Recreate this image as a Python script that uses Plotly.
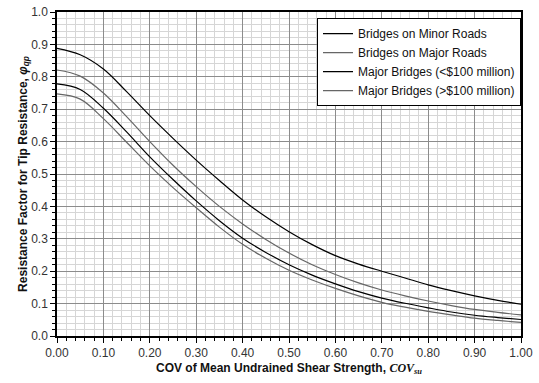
import plotly.graph_objects as go

cov = [0.00, 0.05, 0.10, 0.15, 0.20, 0.25, 0.30, 0.35, 0.40, 0.45, 0.50,
       0.55, 0.60, 0.65, 0.70, 0.75, 0.80, 0.85, 0.90, 0.95, 1.00]

minor_roads = [0.888, 0.868, 0.824, 0.754, 0.680, 0.610, 0.543, 0.480, 0.420, 0.368, 0.322,
               0.282, 0.248, 0.222, 0.200, 0.179, 0.158, 0.140, 0.124, 0.110, 0.098]
major_roads = [0.821, 0.802, 0.750, 0.677, 0.600, 0.527, 0.461, 0.400, 0.346, 0.298, 0.256,
               0.220, 0.190, 0.164, 0.142, 0.124, 0.108, 0.094, 0.082, 0.073, 0.065]
major_lt100 = [0.778, 0.761, 0.703, 0.630, 0.553, 0.483, 0.417, 0.356, 0.302, 0.258, 0.220,
               0.188, 0.161, 0.137, 0.117, 0.101, 0.087, 0.074, 0.064, 0.057, 0.051]
major_gt100 = [0.747, 0.731, 0.671, 0.598, 0.525, 0.458, 0.396, 0.336, 0.283, 0.240, 0.203,
               0.173, 0.147, 0.124, 0.104, 0.089, 0.076, 0.065, 0.055, 0.048, 0.042]

names = ["Bridges on Minor Roads", "Bridges on Major Roads",
         "Major Bridges (<$100 million)", "Major Bridges (>$100 million)"]
series = [minor_roads, major_roads, major_lt100, major_gt100]
colors = ["#000000", "#666666", "#000000", "#666666"]

fig = go.Figure()
for n, s, c in zip(names, series, colors):
    fig.add_trace(go.Scatter(x=cov, y=s, mode="lines", name=n,
                             line=dict(color=c, width=1.2, shape="spline", smoothing=1.0)))

axis_common = dict(
    showline=True, linecolor="black", linewidth=1.5, mirror=True,
    showgrid=True, gridcolor="#8c8c8c", gridwidth=1,
    ticks="outside", ticklen=5, tickcolor="black", tickwidth=1,
    zeroline=False, automargin=False, ticklabeloverflow="allow",
    tickfont=dict(family="Arial", size=12, color="#333"),
)

fig.update_layout(
    width=539, height=383,
    margin=dict(l=57, r=18, t=12, b=47),
    paper_bgcolor="white", plot_bgcolor="white",
    font=dict(family="Arial", color="#111"),
    showlegend=True,
    legend=dict(x=1, y=0.981, xanchor="right", yanchor="top",
                bgcolor="white", bordercolor="black", borderwidth=1,
                font=dict(family="Arial", size=12, color="#111"),
                itemwidth=30, tracegroupgap=0),
    xaxis=dict(range=[0, 1], dtick=0.1, tick0=0, tickformat=".2f",
               minor=dict(dtick=0.02, showgrid=True, gridcolor="#d6d6d6",
                          ticks="outside", ticklen=3, tickcolor="black"),
               title=dict(text="<b>COV of Mean Undrained Shear Strength, </b>"
                               "<span style='font-family:Times New Roman'><b><i>COV</i></b>"
                               "<sub><b><i>su</i></b></sub></span>",
                          font=dict(family="Arial", size=12, color="#111"), standoff=4),
               **axis_common),
    yaxis=dict(range=[0, 1], dtick=0.1, tick0=0, tickformat=".1f",
               minor=dict(dtick=0.02, showgrid=True, gridcolor="#d6d6d6",
                          ticks="outside", ticklen=3, tickcolor="black"),
               title=dict(text="<b>Resistance Factor for Tip Resistance, "
                               "<i>φ</i><sub><i>qp</i></sub></b>",
                          font=dict(family="Arial", size=12, color="#111"), standoff=1),
               **axis_common),
)

fig.write_html("out.html",
               config={"displayModeBar": False},
               post_script="document.body.style.margin='0';document.body.style.overflow='hidden';")
